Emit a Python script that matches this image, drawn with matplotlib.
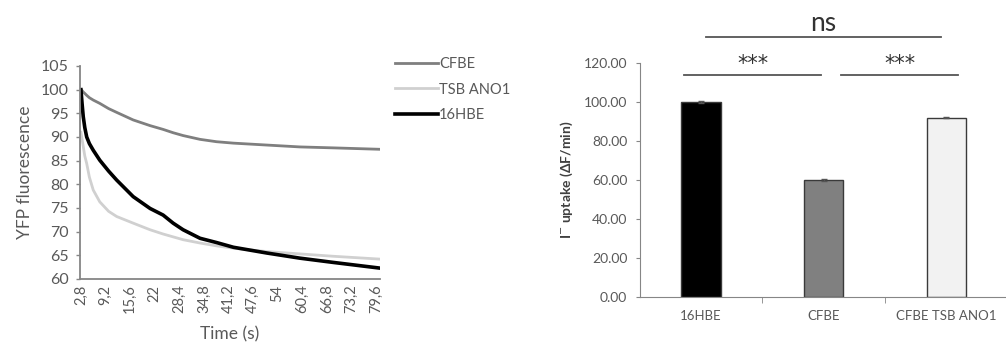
import matplotlib.pyplot as plt

plt.rcParams['font.family'] = ['Lato', 'DejaVu Sans']

# left panel: YFP fluorescence quenching traces
time_s = [2.8, 3.1, 3.4, 3.8, 4.3, 5.0, 6.0, 7.7, 10.0, 12.1, 16.4, 20.8, 24.2,
          26.8, 29.4, 33.8, 38.1, 42.5, 51.1, 59.8, 68.5, 80.6]
cfbe = [100, 99.8, 99.5, 99.2, 98.8, 98.3, 97.8, 97.1, 96.0, 95.2, 93.6, 92.4,
        91.6, 90.9, 90.3, 89.5, 89.0, 88.7, 88.3, 87.9, 87.7, 87.4]
tsb_ano1 = [91, 89.5, 88, 86, 84.4, 81.5, 78.8, 76.3, 74.3, 73.2, 71.8, 70.4,
            69.5, 68.9, 68.3, 67.6, 67.0, 66.5, 65.8, 65.3, 64.8, 64.2]
hbe16 = [100, 97, 94.3, 92, 90, 88.6, 87.2, 85.1, 82.8, 80.9, 77.4, 74.9, 73.5,
         71.8, 70.4, 68.6, 67.7, 66.7, 65.5, 64.4, 63.5, 62.3]
time_ticks = [2.8, 9.2, 15.6, 22, 28.4, 34.8, 41.2, 47.6, 54, 60.4, 66.8, 73.2, 79.6]

# right panel: iodide uptake
groups = ['16HBE', 'CFBE', 'CFBE TSB ANO1']
uptake = [100, 60, 92]
uptake_ticks = [0, 20, 40, 60, 80, 100, 120]

txt = '#595959'
axc = '#868686'

fig = plt.figure(figsize=(10.06, 3.58), dpi=100)

# ---- left line chart
ax1 = fig.add_axes([0.0795, 0.2207, 0.298, 0.595])
ax1.plot(time_s, cfbe, color='#7f7f7f', lw=2.0, label='CFBE')
ax1.plot(time_s, tsb_ano1, color='#d0d0d0', lw=2.0, label='TSB ANO1')
ax1.plot(time_s, hbe16, color='black', lw=2.6, label='16HBE')
ax1.set_xlim(2.55, 80.6)
ax1.set_ylim(60, 105)
ax1.set_yticks(range(60, 106, 5))
ax1.set_xticks(time_ticks)
ax1.set_xticklabels([str(t).replace('.', ',') for t in time_ticks], rotation=90)
ax1.tick_params(axis='x', length=0, pad=4, labelsize=10.5, colors=txt)
ax1.tick_params(axis='y', length=3, width=1, color=axc, labelsize=11.5, colors=txt, pad=5)
for s in ['top', 'right']:
    ax1.spines[s].set_visible(False)
for s in ['left', 'bottom']:
    ax1.spines[s].set_color(axc)
    ax1.spines[s].set_linewidth(1.3)
ax1.set_xlabel('Time (s)', fontsize=12.5, color=txt, labelpad=9)
ax1.set_ylabel('YFP fluorescence', fontsize=12.5, color=txt, labelpad=6)
ax1.legend(loc='upper left', bbox_to_anchor=(1.03, 1.07), frameon=False,
           fontsize=10.5, labelcolor=txt, handlelength=3.0, handletextpad=0.05,
           labelspacing=0.8, borderaxespad=0)

# ---- right bar chart
ax2 = fig.add_axes([0.636, 0.170, 0.363, 0.654])
x = range(len(groups))
ax2.bar(x, uptake, width=0.32, color=['black', '#808080', '#f2f2f2'],
        edgecolor='#3a3a3a', linewidth=1.0, zorder=2)
ax2.errorbar(x, uptake, yerr=[0.3, 0.3, 0.3], fmt='none', ecolor='#555555',
             elinewidth=0.8, capsize=2, zorder=3)
ax2.set_xlim(-0.5, 2.48)
ax2.set_ylim(0, 120)
ax2.set_yticks(uptake_ticks)
ax2.set_yticklabels(['%.2f' % v for v in uptake_ticks])
ax2.set_xticks(list(x))
ax2.set_xticklabels(groups)
ax2.set_xticks([0.5, 1.5], minor=True)
ax2.tick_params(axis='x', which='major', length=0, pad=9, labelsize=9.5, colors=txt)
ax2.tick_params(axis='x', which='minor', length=4, color=axc)
ax2.tick_params(axis='y', length=3, color=axc, labelsize=10, colors=txt, pad=6)
for s in ['top', 'right']:
    ax2.spines[s].set_visible(False)
for s in ['left', 'bottom']:
    ax2.spines[s].set_color(axc)
ax2.set_ylabel('I$^{-}$ uptake (ΔF/min)', fontsize=10, fontweight='bold',
               color='#404040', labelpad=6)

# significance marks
sig = [(-0.14, 0.98, 113.8, '***', 119.5, 15, 'DejaVu Sans'),
       (1.14, 2.1, 113.8, '***', 119.5, 15, 'DejaVu Sans'),
       (0.04, 1.96, 133.3, 'ns', 140.5, 19, 'Lato')]
for x0, x1, yl, lab, yt, fs, fam in sig:
    ax2.plot([x0, x1], [yl, yl], color='#555555', lw=1.3, clip_on=False)
    ax2.text((x0 + x1) / 2, yt, lab, ha='center', va='center', fontsize=fs,
             family=fam, color='#333333', clip_on=False)

fig.savefig('out.png', dpi=100)
